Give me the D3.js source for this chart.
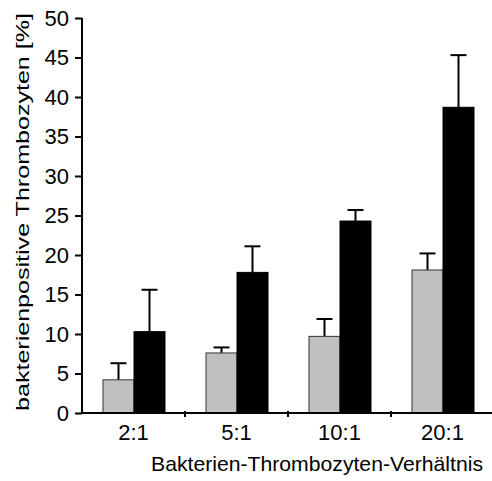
<!DOCTYPE html>
<html>
<head>
<meta charset="utf-8">
<script src="https://cdn.jsdelivr.net/npm/d3@7"></script>
<style>
  body { margin: 0; background: #fff; }
  text { font-family: "Liberation Sans", Arial, sans-serif; fill: #000; }
</style>
</head>
<body>
<svg id="chart"></svg>
<script>
// data
var categories = ["2:1", "5:1", "10:1", "20:1"];
var grayValues = [4.2, 7.6, 9.7, 18.1];
var grayErrors = [2.1, 0.7, 2.2, 2.1];
var blackValues = [10.3, 17.8, 24.3, 38.7];
var blackErrors = [5.3, 3.3, 1.4, 6.6];
var yTicks = [0, 5, 10, 15, 20, 25, 30, 35, 40, 45, 50];

var W = 492, H = 481;
var margin = {top: 18, right: 0, bottom: 68, left: 82},
    width = W - margin.left - margin.right,
    height = H - margin.top - margin.bottom;

var svg = d3.select("#chart")
    .attr("width", W)
    .attr("height", H)
  .append("g")
    .attr("transform", "translate(" + margin.left + "," + margin.top + ")");

var x = d3.scaleBand()
    .domain(categories)
    .range([0, 412]);
var y = d3.scaleLinear()
    .domain([0, 50])
    .range([height, 0]);

var barW = 31, offset = 21;

var rows = categories.map(function(c, i) {
  return {cat: c, g: grayValues[i], ge: grayErrors[i], b: blackValues[i], be: blackErrors[i]};
});

// error bars (drawn first, bars cover lower part)
function errBar(cls, xOff, val, err) {
  var grp = svg.selectAll("." + cls)
    .data(rows)
    .join("g")
      .attr("class", cls);
  grp.append("line")
    .attr("x1", function(d) { return x(d.cat) + xOff + barW / 2; })
    .attr("x2", function(d) { return x(d.cat) + xOff + barW / 2; })
    .attr("y1", function(d) { return y(d[val]); })
    .attr("y2", function(d) { return y(d[val] + d[err]); })
    .attr("stroke", "#000").attr("stroke-width", 2);
  grp.append("line")
    .attr("x1", function(d) { return x(d.cat) + xOff + barW / 2 - 8; })
    .attr("x2", function(d) { return x(d.cat) + xOff + barW / 2 + 8; })
    .attr("y1", function(d) { return y(d[val] + d[err]); })
    .attr("y2", function(d) { return y(d[val] + d[err]); })
    .attr("stroke", "#000").attr("stroke-width", 2);
}
errBar("errG", offset, "g", "ge");
errBar("errB", offset + barW, "b", "be");

svg.selectAll(".barG")
  .data(rows)
  .join("rect")
    .attr("class", "barG")
    .attr("x", function(d) { return x(d.cat) + offset; })
    .attr("width", barW)
    .attr("y", function(d) { return y(d.g); })
    .attr("height", function(d) { return height - y(d.g); })
    .attr("fill", "#c0c0c0")
    .attr("stroke", "#333")
    .attr("stroke-width", 1);

svg.selectAll(".barB")
  .data(rows)
  .join("rect")
    .attr("class", "barB")
    .attr("x", function(d) { return x(d.cat) + offset + barW; })
    .attr("width", barW)
    .attr("y", function(d) { return y(d.b); })
    .attr("height", function(d) { return height - y(d.b); })
    .attr("fill", "#000")
    .attr("stroke", "#000")
    .attr("stroke-width", 1);

// y axis
var yAxis = svg.append("g")
    .call(d3.axisLeft(y).tickValues(yTicks).tickSize(7).tickPadding(6));
yAxis.select(".domain").attr("d", "M0," + height + "V0").attr("stroke-width", 2);
yAxis.selectAll(".tick line").attr("stroke-width", 2);
yAxis.selectAll("text").style("font-size", "22px");

// x axis: line plus ticks at category boundaries
var xAxis = svg.append("g")
    .attr("transform", "translate(0," + height + ")");
xAxis.append("line")
    .attr("x1", 0).attr("x2", 412)
    .attr("stroke", "#000").attr("stroke-width", 2);
xAxis.selectAll(".bt")
  .data(categories.slice(1))
  .join("line")
    .attr("class", "bt")
    .attr("x1", function(d) { return x(d); })
    .attr("x2", function(d) { return x(d); })
    .attr("y1", -2).attr("y2", 4)
    .attr("stroke", "#000").attr("stroke-width", 2);
xAxis.selectAll(".xl")
  .data(categories)
  .join("text")
    .attr("class", "xl")
    .attr("x", function(d) { return x(d) + x.bandwidth() / 2; })
    .attr("y", 27)
    .attr("text-anchor", "middle")
    .style("font-size", "22px")
    .text(function(d) { return d; });

// axis titles
svg.append("text")
    .attr("x", 235)
    .attr("y", height + 58)
    .attr("text-anchor", "middle")
    .attr("textLength", 332)
    .attr("lengthAdjust", "spacingAndGlyphs")
    .style("font-size", "21px")
    .text("Bakterien-Thrombozyten-Verhältnis");

svg.append("text")
    .attr("transform", "translate(" + (-53) + "," + 194 + ") rotate(-90)")
    .attr("text-anchor", "middle")
    .attr("textLength", 398)
    .attr("lengthAdjust", "spacingAndGlyphs")
    .style("font-size", "19px")
    .text("bakterienpositive Thrombozyten [%]");
</script>
</body>
</html>
